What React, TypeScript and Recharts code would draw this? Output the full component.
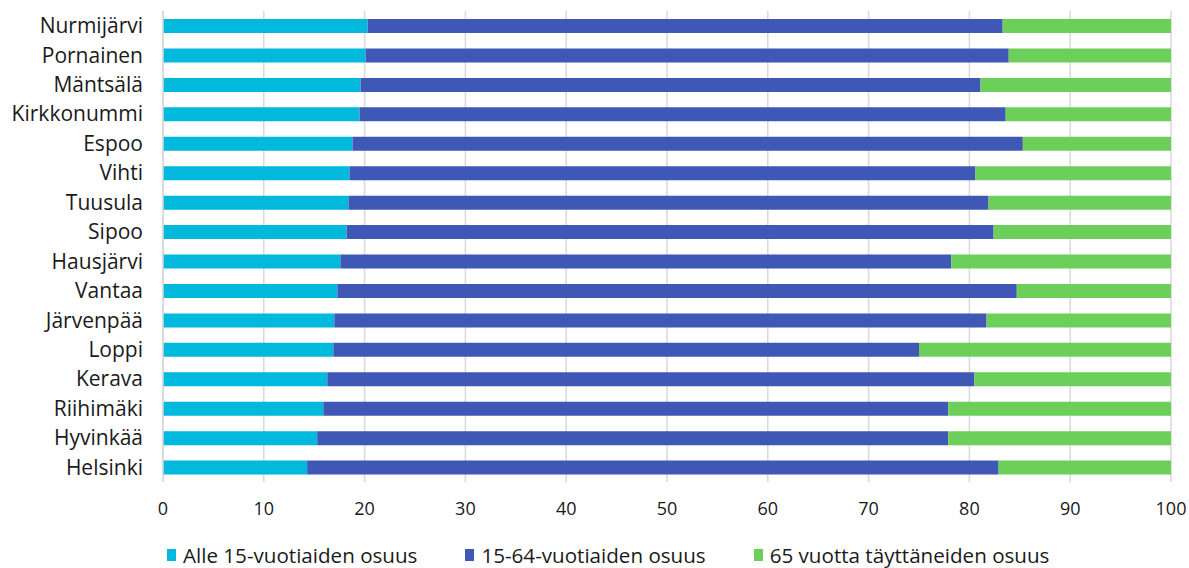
import React from 'react'
import { BarChart, Bar, XAxis, YAxis, CartesianGrid } from 'recharts'

const municipalities = [
  'Nurmijärvi', 'Pornainen', 'Mäntsälä', 'Kirkkonummi', 'Espoo', 'Vihti', 'Tuusula', 'Sipoo',
  'Hausjärvi', 'Vantaa', 'Järvenpää', 'Loppi', 'Kerava', 'Riihimäki', 'Hyvinkää', 'Helsinki',
]
// shares in percent
const under15 = [20.3, 20.1, 19.6, 19.5, 18.8, 18.5, 18.4, 18.2, 17.6, 17.3, 17.0, 16.9, 16.3, 15.9, 15.3, 14.3]
const age15to64 = [63.0, 63.8, 61.5, 64.1, 66.5, 62.1, 63.5, 64.2, 60.6, 67.4, 64.7, 58.1, 64.2, 62.0, 62.6, 68.6]
const over65 = [16.7, 16.1, 18.9, 16.4, 14.7, 19.4, 18.1, 17.6, 21.8, 15.3, 18.3, 25.0, 19.5, 22.1, 22.1, 17.1]
const xTicks = [0, 10, 20, 30, 40, 50, 60, 70, 80, 90, 100]

const series = [
  { key: 'under15', name: 'Alle 15-vuotiaiden osuus', color: '#00b9dc' },
  { key: 'mid', name: '15-64-vuotiaiden osuus', color: '#3f58b5' },
  { key: 'over65', name: '65 vuotta täyttäneiden osuus', color: '#6ccf5a' },
]

const data = municipalities.map((name, i) => ({
  name,
  under15: under15[i],
  mid: age15to64[i],
  over65: over65[i],
}))

const font = '"Open Sans", "Noto Sans", sans-serif'

function ChartLegend() {
  return (
    <div style={{ position: 'absolute', top: 543, left: 8, display: 'flex', paddingLeft: 159, fontFamily: font, fontSize: 20.6, color: '#1a1a1a', lineHeight: '24px', whiteSpace: 'nowrap' }}>
      {series.map(s => (
        <div key={s.key} style={{ display: 'flex', alignItems: 'center', marginRight: 48 }}>
          <span style={{ display: 'inline-block', width: 9, height: 12, background: s.color, marginRight: 7 }} />
          <span>{s.name}</span>
        </div>
      ))}
    </div>
  )
}

export default function App() {
  return (
    <div style={{ width: 1189, height: 568, boxSizing: 'border-box', padding: '8px 0 0 8px', position: 'relative', background: '#fff' }}>
      <style>{'body { margin: 0; } #root { overflow: visible; }'}</style>
      <BarChart
        width={1181}
        height={522}
        data={data}
        layout="vertical"
        margin={{ top: 3, right: 18, left: 0, bottom: 0 }}
        barSize={14}
      >
        <CartesianGrid horizontal={false} stroke="#d9d9d9" strokeWidth={1.5} />
        <XAxis
          type="number"
          domain={[0, 100]}
          ticks={xTicks}
          axisLine={false}
          tickLine={false}
          tickMargin={14}
          height={48}
          tick={{ fontSize: 18, fill: '#1a1a1a', fontFamily: font }}
        />
        <YAxis
          type="category"
          dataKey="name"
          width={155}
          axisLine={{ stroke: '#d9d9d9', strokeWidth: 1.5 }}
          tickLine={false}
          tickMargin={14}
          interval={0}
          tick={{ fontSize: 21, fill: '#1a1a1a', fontFamily: font }}
        />
        {series.map(s => (
          <Bar key={s.key} dataKey={s.key} name={s.name} stackId="a" fill={s.color} isAnimationActive={false} />
        ))}
      </BarChart>
      <ChartLegend />
    </div>
  )
}
